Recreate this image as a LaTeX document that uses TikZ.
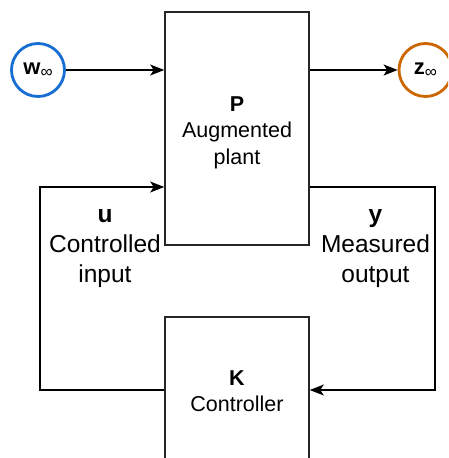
\documentclass[tikz,border=0pt]{standalone}
\usepackage{fontspec}
\setmainfont{Liberation Sans}
\usetikzlibrary{arrows.meta}
\definecolor{sigblue}{RGB}{22,110,210}
\definecolor{sigorange}{RGB}{204,102,0}
\tikzset{
  block/.style={draw=black!85, line width=1.6pt, minimum width=144pt, inner sep=0pt},
  signal/.style={circle, line width=2.8pt, minimum size=53pt, inner sep=0pt, fill=white},
  conn/.style={draw=black, line width=1.3pt},
  tip/.style={-{Stealth[length=14pt, width=11pt, inset=3.5pt]}},
  boxtext/.style={align=center, font=\fontsize{21.5}{26.5}\selectfont},
  sidetext/.style={align=center, font=\fontsize{24.5}{30}\selectfont}
}
\begin{document}
\begin{tikzpicture}[x=1pt, y=-1pt]
  % 1. frame (the picture is cut at its edges)
  \clip (0,0) rectangle (448,458);

  % 2. blocks
  \node[block, minimum height=233pt] (P) at (237,128.5) {};
  \node[boxtext] (Ptxt) at (237,132.5) {\textbf{P}\\Augmented\\plant};
  \node[block, minimum height=146pt] (K) at (237,390) {};
  \node[boxtext] (Ktxt) at (237,391) {\textbf{K}\\Controller};

  % 3. exogenous signals
  \node[signal, draw=sigblue] (w) at (38,70)
    {\fontsize{22}{22}\selectfont\textbf{w}\raisebox{-0.3ex}{\fontsize{17}{17}\selectfont ∞}};
  \node[signal, draw=sigorange] (z) at (425.5,70)
    {\fontsize{22}{22}\selectfont\textbf{z}\raisebox{-0.3ex}{\fontsize{17}{17}\selectfont ∞}};

  % 4. loop corners
  \coordinate (uturn) at (40,187);
  \coordinate (yturn) at (435,187);

  % 5. connectors
  \draw[conn, tip] (w) -- (w -| P.west);
  \draw[conn, tip] (z -| P.east) -- (z);
  \draw[conn, tip] (K.west) -| (uturn) -- (uturn -| P.west);
  \draw[conn, tip] (yturn -| P.east) -- (yturn) |- (K.east);

  % 6. loop labels
  \node[sidetext] (ulbl) at (105,249) {\textbf{u}\\Controlled\\input};
  \node[sidetext] (ylbl) at (375.5,249) {\textbf{y}\\Measured\\output};
\end{tikzpicture}
\end{document}
